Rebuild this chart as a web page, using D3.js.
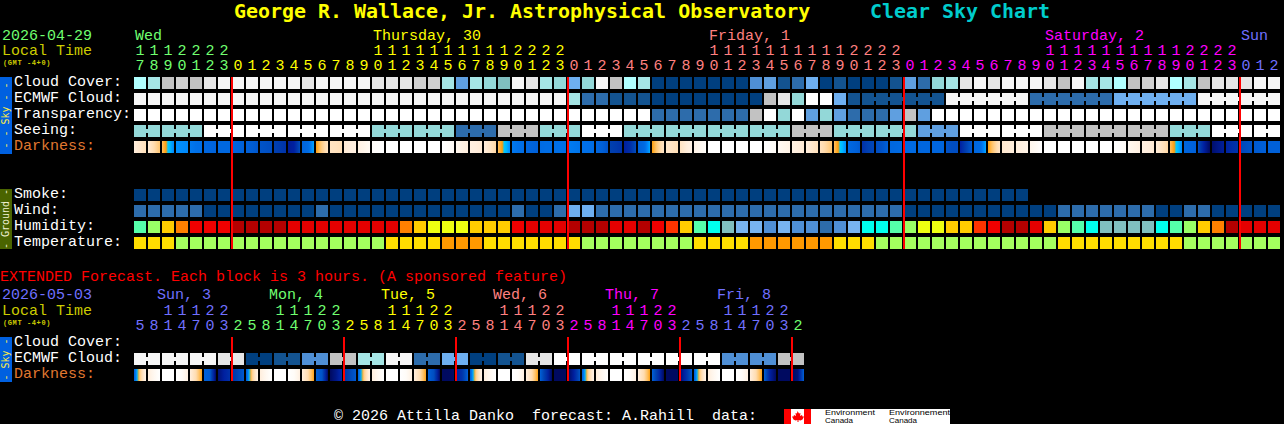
<!DOCTYPE html>
<html lang="en">
<head>
<meta charset="UTF-8">
<title>Clear Sky Chart</title>
<script src="https://d3js.org/d3.v7.min.js"></script>
<style>
    html, body { margin: 0; background: #000; }
    svg { display: block; }
    text { font-family: "Liberation Mono", monospace; font-size: 15px; }
    rect { shape-rendering: crispEdges; }
</style>
</head>
<body>
<script>
// hours along the top, one per block
const hours = [17,18,19,20,21,22,23,
    0,1,2,3,4,5,6,7,8,9,10,11,12,13,14,15,16,17,18,19,20,21,22,23,
    0,1,2,3,4,5,6,7,8,9,10,11,12,13,14,15,16,17,18,19,20,21,22,23,
    0,1,2,3,4,5,6,7,8,9,10,11,12,13,14,15,16,17,18,19,20,21,22,23,
    0,1,2];
const dayLabels = ["Wed", "Thursday, 30", "Friday, 1", "Saturday, 2", "Sun"];
const dayLabelCols = [0, 17, 41, 65, 79];
const dayStarts = [7, 31, 55, 79];
const dayColors = ["#70ff70", "#ffff00", "#ff8080", "#ff00ff", "#7070ff"];

// sky and wind rows are coded on one shared colour ramp
const skyColors = ["#003f7f","#135390","#2d6cab","#4f8fd5","#5f9fe0","#6eaff0","#b0ffff","#a5e5e5",
    "#93d8d8","#80bfbf","#c2c2c2","#d0d0d0","#e6e6e6","#f6f6f6","#ffffff"];

const cloudCover = [6,7,10,11,10,12,13,13,13,13,
    13,13,12,13,13,13,13,12,12,12,
    11,11,7,4,7,8,9,13,12,7,
    8,5,8,13,10,6,7,0,0,0,
    0,0,0,0,3,4,1,2,5,0,
    1,0,0,0,1,4,2,8,7,12,
    13,12,13,13,13,12,10,13,7,7,
    6,10,11,12,6,7,10,12,12,12,
    13,13];
const ecmwfCloud = [13,13,13,13,13,13,13,13,13,13,
    13,13,13,13,13,13,13,13,13,13,
    13,13,13,13,13,13,13,13,13,13,
    13,7,2,2,1,1,1,0,0,0,
    0,0,0,0,0,10,12,8,14,14,
    5,1,1,1,1,1,1,1,13,13,
    13,13,13,13,2,2,2,2,2,2,
    5,5,5,5,5,5,13,13,13,13,
    13,13];
const transparency = [14,14,14,14,14,14,14,14,14,14,
    14,14,14,14,14,14,14,14,14,14,
    14,14,14,14,14,14,14,14,14,14,
    14,14,14,14,14,14,14,2,2,2,
    2,2,2,2,10,14,8,14,4,8,
    4,2,2,2,4,10,4,14,14,14,
    14,14,14,14,14,14,14,14,14,14,
    14,14,14,14,14,14,14,14,14,14,
    14,14];
const seeing = [8,8,8,8,8,14,14,14,14,14,
    14,14,14,14,14,14,14,8,8,8,
    8,8,8,2,2,2,10,10,10,8,
    8,8,14,14,14,8,8,8,8,8,
    8,8,8,8,8,8,8,10,10,10,
    8,8,8,8,8,8,4,4,4,14,
    14,14,14,14,14,10,10,10,10,10,
    10,10,10,10,8,8,8,14,14,14,
    14,14];
const smoke = [0,0,0,0,0,0,0,0,0,0,
    0,0,0,0,0,0,0,0,0,0,
    0,0,0,0,0,0,0,0,0,0,
    0,0,0,0,0,0,0,0,0,0,
    0,0,0,0,0,0,0,0,0,0,
    0,0,0,0,0,0,0,0,0,0,
    0,0,0,0];
const wind = [2,2,2,2,2,0,0,0,0,0,
    0,0,0,2,0,0,0,0,0,0,
    0,0,0,0,0,0,0,2,0,0,
    2,5,5,2,2,2,2,2,2,2,
    2,2,2,2,2,2,2,2,2,2,
    2,2,2,2,2,0,0,0,0,0,
    0,0,0,0,0,0,2,2,2,2,
    2,2,2,0,0,2,2,0,0,0,
    0,0];

const humidityLevels = [30,35,40,45,50,55,60,65,70,75,80,85,90,95];
const humidityColors = ["#2d6cab","#4f8fd5","#78b4f0","#80bfbf","#00ffee","#55ffaa","#99ff66",
    "#eeff11","#ffcc00","#ff8000","#ff3300","#f00000","#e40000","#b40000"];
const humidity = [55,60,70,75,85,85,85,95,95,95,
    95,90,90,90,90,90,90,90,90,75,
    70,65,65,65,70,70,70,85,90,90,
    90,95,95,95,90,90,95,85,80,70,
    55,50,45,40,40,35,40,35,35,30,
    35,40,50,50,55,60,65,65,70,70,
    80,85,95,95,90,70,60,55,50,45,
    45,45,45,50,55,60,70,75,95,90,
    90,90];

const tempLevels = [11,14,18];
const tempColors = ["#a4ff5e","#ffdd00","#ff9900"];
const temperature = [14,14,14,11,11,11,11,11,11,11,
    11,11,11,11,11,11,11,11,14,14,
    14,14,18,18,18,14,14,14,14,14,
    14,14,11,11,11,11,11,11,11,11,
    14,14,14,14,18,18,18,18,18,18,
    14,14,14,11,11,11,11,11,11,11,
    11,11,11,11,11,11,14,14,14,14,
    14,14,14,14,14,11,11,11,11,11,
    11,11];

// darkness: left, middle and right of each block (negative = sun up)
const darkness = [[-3,-2.6,-2.2],[-2.8,-2,-1.2],[-1,0.2,1.4],[1.2,1.3,1.4],[1.8,2,2.1],[2.6,2.7,2.8],[2.5,2.5,2.5],[2.6,2.8,3],[3,3.1,3.3],[3.4,3.5,3.6],
    [4,4.2,4.4],[5.2,5,3.6],[2.8,2.4,0.8],[-0.2,-1.5,-2.4],[-2.4,-2.3,-2.1],[-2.8,-3,-3.2],[-3.3,-3.7,-4.2],[-4.6,-4.8,-5],[-5,-5,-5],[-5,-5,-5],
    [-5,-5,-5],[-5,-5,-5],[-5,-4.6,-4.3],[-3.9,-3.4,-3],[-3.2,-3,-2.8],[-3,-2.5,-1.8],[-1,0.15,1.3],[1.8,2,2.2],[2.6,2.8,3],[2.3,2.2,2.2],
    [2.1,2,2.1],[1.7,1.8,1.9],[2,2.1,2.2],[2.6,3,3.4],[4,4.2,4.4],[5,4.6,3.6],[3,2.4,0.8],[-0.2,-1.5,-2.5],[-2.6,-2.4,-2.1],[-2.4,-2.9,-3.4],
    [-3.5,-4,-4.6],[-5,-5,-5],[-5,-5,-5],[-5,-5,-5],[-5,-5,-5],[-5,-4.7,-4.4],[-4.2,-3.8,-3.5],[-3.3,-3,-2.8],[-3,-2.6,-2.2],[-2.3,-1.8,-1.2],
    [-1,0.15,1.3],[2.4,2.8,3.2],[4.5,4,3.8],[3.6,3.4,3],[2.6,2.5,2.4],[2.5,2.4,2.4],[2.7,2.6,2.6],[2.7,2.7,2.7],[3.4,3.6,3.6],[5,4,3.2],
    [2.6,2.4,0.8],[-0.2,-1.5,-2.5],[-2.7,-2.8,-3],[-3,-3.2,-3.5],[-3.8,-4.3,-5],[-5,-5,-5],[-5,-5,-5],[-5,-5,-5],[-5,-5,-5],[-5,-5,-5],
    [-5,-4.7,-4.3],[-4,-3.6,-3.2],[-3.2,-3,-2.8],[-2.9,-2.4,-1.8],[-1,0.15,1.4],[2.6,2.8,3],[3.6,5,6],[5.8,5.4,5.1],[4.9,4.6,4.4],[3.8,3.6,3.4],
    [3.2,3.1,3],[3,3,3]];
const darknessDomain = [-5,-4,-3,-2,-1,-0.1,0.1,0.6,1.2,2,3,4,5,6];
const darknessColors = ["#ffffff","#fff8f0","#ffeedd","#ffdcb0","#ffc060","#ff9900","#00ccff","#00b8ff",
    "#0090ff","#0070e8","#0060d8","#0040b0","#0020a0","#000a60"];

// extended forecast, 3 hours per block
const extHours = [5,8,11,14,17,20,23,
    2,5,8,11,14,17,20,23,
    2,5,8,11,14,17,20,23,
    2,5,8,11,14,17,20,23,
    2,5,8,11,14,17,20,23,
    2,5,8,11,14,17,20,23,
    2];
const extDayLabels = ["Sun, 3", "Mon, 4", "Tue, 5", "Wed, 6", "Thu, 7", "Fri, 8"];
const extDayLabelCols = [2, 10, 18, 26, 34, 42];
const extDayStarts = [7, 15, 23, 31, 39, 47];
const extDayColors = ["#7070ff", "#70ff70", "#ffff00", "#ff8080", "#ff00ff", "#7070ff", "#70ff70"];
const extEcmwf = [13,13,13,13,13,13,12,12,0,0,1,1,3,3,10,10,7,7,13,13,2,2,5,5,
    0,0,1,1,12,12,14,14,14,14,14,14,14,14,14,14,14,14,3,3,3,3,10,10];
const extDarkness = [[3,-1.5,-3.4],[-3,-4,-5],[-5,-5,-5],[-5,-4.5,-3.2],[-3,-2,-0.3],[3,3.2,6],[5.7,5,4.5],[4.4,3.8,3.2],
    [3,-1.5,-3.4],[-3,-4,-5],[-5,-5,-5],[-5,-4.5,-3.2],[-3,-2,-0.3],[3,3.4,6],[6,5.4,4.6],[4.4,3.8,3.2],
    [3,-1.5,-3.4],[-3,-4,-5],[-5,-5,-5],[-5,-4.5,-3.2],[-3,-2,-0.3],[3,3.6,6],[6,6,5.9],[5,4.4,3],
    [3,-1.5,-3.4],[-3,-4,-5],[-5,-5,-5],[-5,-4.5,-3.2],[-3,-2,-0.3],[3,4.4,6],[6,6,6],[6,5,3.4],
    [3,-1.5,-3.4],[-3,-4,-5],[-5,-5,-5],[-5,-4.5,-3.2],[-3,-2,-0.3],[3,4.4,6],[6,6,6],[5.8,4.6,3.2],
    [3,-1.5,-3.4],[-3,-4,-5],[-5,-5,-5],[-5,-4.5,-3.2],[-3,-2,-0.3],[3,5,6],[6,6,6],[6,5.6,3]];

const width = 1284, height = 424;
const pitch = 14, cellSize = 12;
const cellTop = 4, cellBridge = 4;   // little tab joining blocks of one forecast step

const svg = d3.select("body").append("svg")
    .attr("width", width)
    .attr("height", height);
const defs = svg.append("defs");

const skyColor = d3.scaleOrdinal(d3.range(skyColors.length), skyColors);
const humidityColor = d3.scaleOrdinal(humidityLevels, humidityColors);
const tempColor = d3.scaleOrdinal(tempLevels, tempColors);
const darkColor = d3.scaleLinear().domain(darknessDomain).range(darknessColors).clamp(true);

const bandScale = (count, start) => d3.scaleBand()
    .domain(d3.range(count))
    .range([start, start + pitch * count - (pitch - cellSize)])
    .paddingInner((pitch - cellSize) / pitch);
const rowScale = (rows, start) => d3.scaleBand()
    .domain(rows)
    .range([start, start + 16 * rows.length - 4])
    .paddingInner(0.25);

const x = bandScale(hours.length, 134);
const extX = bandScale(extHours.length, 134);
const skyY = rowScale(["Cloud Cover:", "ECMWF Cloud:", "Transparency:", "Seeing:", "Darkness:"], 77);
const groundY = rowScale(["Smoke:", "Wind:", "Humidity:", "Temperature:"], 189);
const extY = rowScale(["Cloud Cover:", "ECMWF Cloud:", "Darkness:"], 337);

function drawRow(xs, y, values, color) {
    svg.append("g").selectAll("rect")
        .data(values)
        .enter().append("rect")
        .attr("x", (d, i) => xs(i))
        .attr("y", y)
        .attr("width", xs.bandwidth())
        .attr("height", cellSize)
        .attr("fill", d => color(d));
}

// joins neighbours inside blocks of given lengths
function drawBridges(xs, y, values, color, blocks) {
    let joins = [], at = 0;
    blocks.forEach(n => {
        for (let k = 0; k < n - 1; k++) joins.push(at + k);
        at += n;
    });
    svg.append("g").selectAll("rect")
        .data(joins)
        .enter().append("rect")
        .attr("x", i => xs(i) + xs.bandwidth())
        .attr("y", y + cellTop)
        .attr("width", xs.step() - xs.bandwidth())
        .attr("height", cellBridge)
        .attr("fill", i => color(values[i]));
}

let gradId = 0;
function drawDarkness(xs, y, samples) {
    svg.append("g").selectAll("rect")
        .data(samples)
        .enter().append("rect")
        .attr("x", (d, i) => xs(i))
        .attr("y", y)
        .attr("width", xs.bandwidth())
        .attr("height", cellSize)
        .attr("fill", d => {
            const id = "dark" + gradId++;
            const left = d3.interpolateNumber(d[0], d[1]), right = d3.interpolateNumber(d[1], d[2]);
            const grad = defs.append("linearGradient").attr("id", id);
            d3.range(0, 13).forEach(p => {
                const t = p / 12;
                const v = t < 0.5 ? left(t * 2) : right(t * 2 - 1);
                grad.append("stop").attr("offset", t).attr("stop-color", darkColor(v));
            });
            return `url(#${id})`;
        });
}

function drawHourAxis(xs, baseline, tensBaseline, hourList, color) {
    const units = svg.append("g")
        .attr("transform", `translate(0,${baseline})`)
        .call(d3.axisTop(xs).tickSize(0).tickPadding(0).tickFormat(i => hourList[i] % 10));
    const tens = svg.append("g")
        .attr("transform", `translate(0,${tensBaseline})`)
        .call(d3.axisTop(xs).tickSize(0).tickPadding(0)
            .tickFormat(i => hourList[i] >= 10 ? Math.floor(hourList[i] / 10) : ""));
    [units, tens].forEach(g => {
        g.select(".domain").remove();
        g.attr("font-family", null).attr("font-size", null);
        g.selectAll("text").attr("fill", i => color(i));
    });
}

function label(str, lx, ly, fill, extra) {
    const t = svg.append("text").attr("x", lx).attr("y", ly).attr("fill", fill).text(str);
    if (extra) extra(t);
    return t;
}

function gmtLabel(ly) {
    label("(GMT -4+0)", 3, ly, "#cccc00", t => t.style("font-size", "7px")
        .style("font-weight", "bold").style("letter-spacing", "0.6px"));
}

function sideBar(top, bottom, fill, str, textFill) {
    svg.append("rect").attr("x", 0).attr("y", top).attr("width", 12).attr("height", bottom - top).attr("fill", fill);
    svg.append("text")
        .attr("transform", `translate(9,${(top + bottom) / 2}) rotate(-90)`)
        .attr("text-anchor", "middle")
        .attr("fill", textFill)
        .style("font-family", "DejaVu Sans Mono")
        .style("font-size", "10px")
        .text(str);
}

function redLines(xs, cols, top, bottom) {
    svg.append("g").selectAll("rect")
        .data(cols)
        .enter().append("rect")
        .attr("x", i => xs(i) - 1)
        .attr("y", top)
        .attr("width", 2)
        .attr("height", bottom - top)
        .attr("fill", "#ff0000");
}

// title
const titleStyle = t => t.style("font-family", "DejaVu Sans Mono")
    .style("font-size", "19.95px").style("font-weight", "bold");
label("George R. Wallace, Jr. Astrophysical Observatory", 234, 18, "#ffff00", titleStyle);
label("Clear Sky Chart", 870, 18, "#00cccc", titleStyle);

// main header
label("2026-04-29", 2, 40, dayColors[0]);
label("Local Time", 2, 55, "#cccc00");
gmtLabel(65);
dayLabels.forEach((d, i) => label(d, x(dayLabelCols[i]) + 1, 40, dayColors[i]));
const dayColor = d3.scaleThreshold().domain(dayStarts).range(dayColors);
drawHourAxis(x, 70, 55, hours, dayColor);

// sky block
sideBar(77, 154, "#0060e0", "- - Sky - -", "#ffee44");
skyY.domain().forEach(name => {
    label(name, 14, skyY(name) + 9, name === "Darkness:" ? "#e07830" : "#ffffff");
});
drawRow(x, skyY("Cloud Cover:"), cloudCover, skyColor);
drawRow(x, skyY("ECMWF Cloud:"), ecmwfCloud, skyColor);
drawBridges(x, skyY("ECMWF Cloud:"), ecmwfCloud, skyColor,
    d3.range(52).map(() => 1).concat([6, 6, 6, 6, 6]));
drawRow(x, skyY("Transparency:"), transparency, skyColor);
drawRow(x, skyY("Seeing:"), seeing, skyColor);
drawBridges(x, skyY("Seeing:"), seeing, skyColor,
    [2].concat(d3.range(26).map(() => 3), [2]));
drawDarkness(x, skyY("Darkness:"), darkness);

// ground block
sideBar(189, 249, "#4a6400", "- Ground -", "#f0f0d0");
groundY.domain().forEach(name => label(name, 14, groundY(name) + 9, "#ffffff"));
drawRow(x, groundY("Smoke:"), smoke, skyColor);
drawRow(x, groundY("Wind:"), wind, skyColor);
drawRow(x, groundY("Humidity:"), humidity, humidityColor);
drawRow(x, groundY("Temperature:"), temperature, tempColor);

redLines(x, dayStarts, 77, 249);

// extended forecast
label("EXTENDED Forecast. Each block is 3 hours. (A sponsored feature)", 0, 281, "#ff0000");
label("2026-05-03", 2, 299, extDayColors[0]);
label("Local Time", 2, 315, "#cccc00");
gmtLabel(325);
extDayLabels.forEach((d, i) => label(d, extX(extDayLabelCols[i]) - 5, 299, extDayColors[i]));
const extDayColor = d3.scaleThreshold().domain(extDayStarts).range(extDayColors);
drawHourAxis(extX, 330, 315, extHours, extDayColor);

sideBar(337, 382, "#0060e0", "- Sky -", "#ffee44");
extY.domain().forEach(name => {
    label(name, 14, extY(name) + 9, name === "Darkness:" ? "#e07830" : "#ffffff");
});
drawRow(extX, extY("ECMWF Cloud:"), extEcmwf, skyColor);
drawBridges(extX, extY("ECMWF Cloud:"), extEcmwf, skyColor, d3.range(24).map(() => 2));
drawDarkness(extX, extY("Darkness:"), extDarkness);
redLines(extX, extDayStarts, 337, 381);

// footer + environment canada strip
label("\u00a9 2026 Attilla Danko  forecast: A.Rahill  data:", 334, 420, "#ffffff",
    t => t.style("white-space", "pre"));
svg.append("rect").attr("x", 784).attr("y", 409).attr("width", 166).attr("height", 15).attr("fill", "#ffffff");
svg.append("rect").attr("x", 784).attr("y", 409).attr("width", 7).attr("height", 15).attr("fill", "#ff0000");
svg.append("rect").attr("x", 804).attr("y", 409).attr("width", 7).attr("height", 15).attr("fill", "#ff0000");
svg.append("path").attr("fill", "#ff0000")
    .attr("d", "M797.5 411l1.5 2.5 1.5-.5-.5 3 2-1 .5 1.5 1.5 0-1.5 3-2 1-2-.5v2h-1v-2l-2 .5-2-1-1.5-3 1.5 0 .5-1.5 2 1-.5-3 1.5 .5z");
[[825, "Environment", 50], [889, "Environnement", 61]].forEach(d => {
    [[d[1], 414.9, d[2]], ["Canada", 422.5, 28]].forEach(line => {
        svg.append("text").attr("x", d[0]).attr("y", line[1]).attr("fill", "#000")
            .attr("textLength", line[2]).attr("lengthAdjust", "spacingAndGlyphs")
            .style("font-family", "Liberation Sans").style("font-size", "6.8px").text(line[0]);
    });
});
</script>
</body>
</html>
